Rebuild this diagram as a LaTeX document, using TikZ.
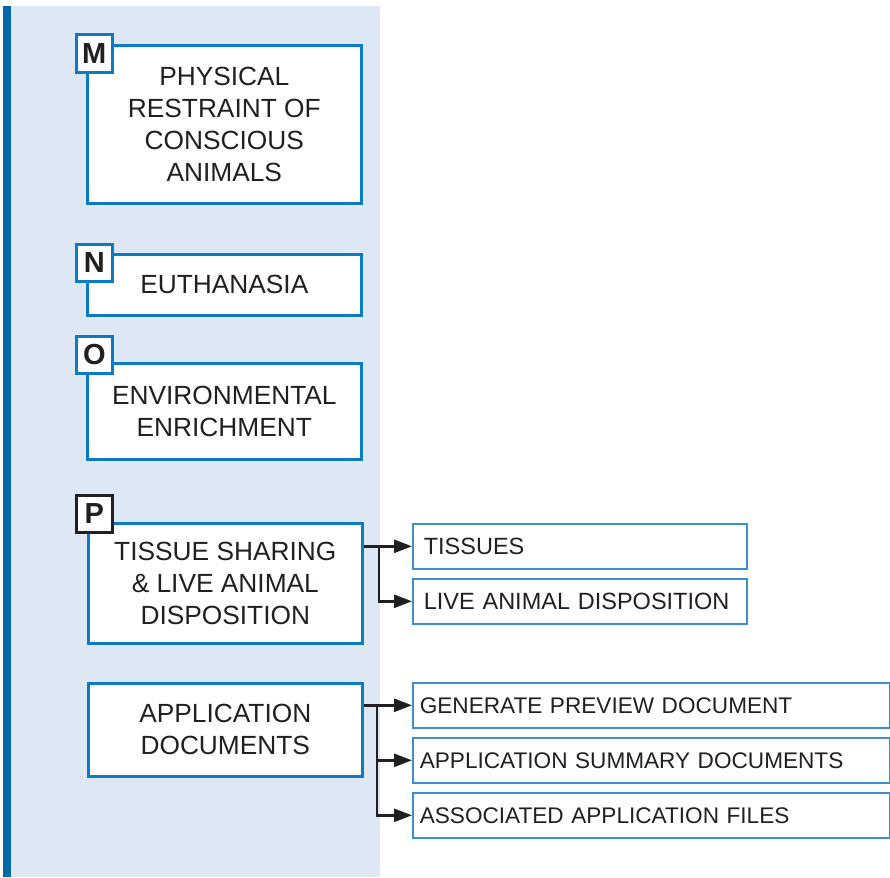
\documentclass[tikz,border=0pt]{standalone}
\usepackage{fontspec}
\setmainfont{Liberation Sans}
\usetikzlibrary{arrows.meta,calc}
\definecolor{panel}{HTML}{DEE8F5}
\definecolor{stripe}{HTML}{0068A6}
\definecolor{boxblue}{HTML}{0A7BC4}
\definecolor{lightbox}{HTML}{3B8FD2}
\definecolor{ink}{HTML}{231F20}
\begin{document}
\begin{tikzpicture}[x=1pt,y=-1pt,
  mainbox/.style={draw=boxblue, line width=2.6pt, fill=white, anchor=north west,
    inner sep=0pt, align=center, minimum width=274pt,
    font=\fontsize{26.3}{32}\selectfont, text=ink},
  letterbox/.style={draw=boxblue, line width=2.6pt, fill=white, anchor=north west,
    minimum width=36pt, minimum height=37pt, inner sep=0pt,
    font=\fontsize{29}{32}\selectfont\bfseries, text=ink},
  subbox/.style={draw=lightbox, line width=1.6pt, fill=white, anchor=north west,
    inner xsep=11pt, inner ysep=0pt, align=left, minimum height=45pt,
    font=\fontsize{22.6}{27}\selectfont, text=ink},
  conn/.style={draw=ink, line width=2.6pt, -{Triangle[length=18pt,width=13pt]}},
]
\useasboundingbox (0,0) rectangle (890,877);
% panel
\fill[panel] (3,6) rectangle (380,877);
\fill[stripe] (3,6) rectangle (11,877);

% main boxes
\node[mainbox, minimum height=158pt] (M) at (86,44) {PHYSICAL\\RESTRAINT OF\\CONSCIOUS\\ANIMALS};
\node[mainbox, minimum height=61pt] (N) at (86,253) {EUTHANASIA};
\node[mainbox, minimum height=96pt] (O) at (86,362) {ENVIRONMENTAL\\ENRICHMENT};
\node[mainbox, minimum height=120pt] (P) at (87,522) {TISSUE SHARING\\\& LIVE ANIMAL\\DISPOSITION};
\node[mainbox, minimum height=93pt] (A) at (87,682) {APPLICATION\\DOCUMENTS};

% letter boxes
\node[letterbox, minimum height=38pt] (mL) at (75,33) {M};
\node[letterbox] (nL) at (75,243) {N};
\node[letterbox] (oL) at (75,335) {O};
\node[letterbox, draw=ink] (pL) at (75,494) {P};

% sub boxes
\node[subbox, text width=312pt, font=\fontsize{23.5}{27}\selectfont] (tis) at (412,523) {TISSUES};
\node[subbox, text width=312pt, font=\fontsize{23.5}{27}\selectfont] (live) at (412,578) {LIVE ANIMAL DISPOSITION};
\node[subbox, inner xsep=7pt, text width=463pt] (gen) at (412,682) {GENERATE PREVIEW DOCUMENT};
\node[subbox, inner xsep=7pt, text width=463pt] (sum) at (412,737) {APPLICATION SUMMARY DOCUMENTS};
\node[subbox, inner xsep=7pt, text width=463pt] (assoc) at (412,792) {ASSOCIATED APPLICATION FILES};

% connectors
\coordinate (pj) at (379,0);
\coordinate (aj) at (377,0);
\draw[conn] (P.east |- tis.west) -- (tis.west);
\draw[conn] (tis.west -| pj) |- (live.west);
\draw[conn] (A.east |- gen.west) -- (gen.west);
\draw[conn] (gen.west -| aj) |- (sum.west);
\draw[conn] (gen.west -| aj) |- (assoc.west);
\end{tikzpicture}
\end{document}
